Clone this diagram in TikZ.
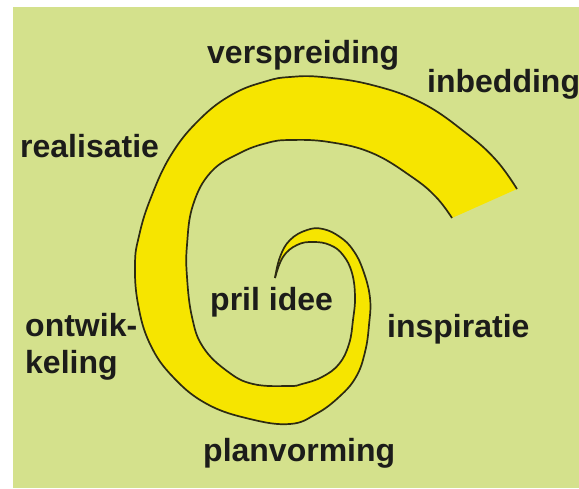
\documentclass[tikz,border=0pt]{standalone}
\usepackage{fontspec}
\setmainfont{Liberation Sans}
\usepackage{tikz}
\usetikzlibrary{positioning}
\definecolor{leafgreen}{RGB}{212,225,140}
\definecolor{spiralyellow}{RGB}{246,229,0}
\definecolor{edgeolive}{RGB}{45,43,18}
\definecolor{inkblack}{RGB}{28,28,26}
\tikzset{
  phase/.style={font=\fontsize{32}{36}\selectfont\bfseries,text=inkblack,
    inner sep=0pt,anchor=base west},
  spiraledge/.style={draw=edgeolive,line width=1.7pt,line join=round},
  spiralfill/.style={fill=spiralyellow}
}
\begin{document}
\begin{tikzpicture}[x=1pt,y=-1pt]
  \useasboundingbox (0,0) rectangle (579,488);
  \fill[white] (0,0) rectangle (579,488);
  \fill[leafgreen] (13,7) rectangle (579,488);
  % the two sides of the band, from the tip outwards
  \def\outerside{(275,278) (280,257) (290,240) (307,230) (323,229) (340,237)
    (353,250) (363,270) (370,298) (369,325) (365,352) (356,377) (339,397)
    (316,414) (290,424) (250,419) (207,404) (173,377) (150,344) (138,304)
    (135,264) (139,236) (150,200) (171,155) (200,119) (233,94) (267,81)
    (290,77) (322,77) (372,85) (422,103) (466,133) (496,160) (517,189)}
  \def\innerside{(275,278) (283,257) (297,245) (313,242) (330,245) (343,255)
    (352,273) (355,297) (353,320) (349,344) (339,364) (322,377) (302,384)
    (289,386) (253,384) (227,371) (203,347) (192,317) (187,277) (187,245)
    (193,205) (211,172) (240,153) (267,143) (290,140) (329,142) (372,153)
    (412,177) (436,197) (452,218)}
  \def\innerback{(452,218) (436,197) (412,177) (372,153) (329,142) (290,140)
    (267,143) (240,153) (211,172) (193,205) (187,245) (187,277) (192,317)
    (203,347) (227,371) (253,384) (289,386) (302,384) (322,377) (339,364)
    (349,344) (353,320) (355,297) (352,273) (343,255) (330,245) (313,242)
    (297,245) (283,257) (275,278)}
  \fill[spiralfill] plot[smooth,tension=0.7] coordinates {\outerside}
    -- plot[smooth,tension=0.7] coordinates {\innerback} -- cycle;
  \draw[spiraledge] plot[smooth,tension=0.7] coordinates {\outerside};
  \draw[spiraledge] plot[smooth,tension=0.7] coordinates {\innerside};
  % stage labels
  \node[phase] (verspreiding) at (207,63) {verspreiding};
  \node[phase] (inbedding) at (427,92) {inbedding};
  \node[phase] (realisatie) at (20,157) {realisatie};
  \node[phase] (ontwik) at (25,336) {ontwik-};
  \node[phase] (keling) at (25,373) {keling};
  \node[phase] (prilidee) at (210,310) {pril idee};
  \node[phase] (inspiratie) at (387,337) {inspiratie};
  \node[phase] (planvorming) at (203,461) {planvorming};
\end{tikzpicture}
\end{document}
